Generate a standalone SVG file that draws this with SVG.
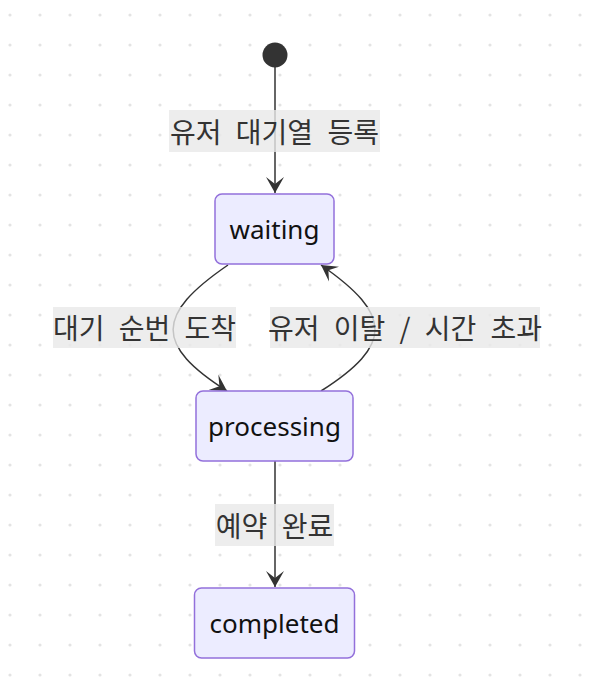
<svg xmlns="http://www.w3.org/2000/svg" width="597" height="678" viewBox="0 0 597 678">
<defs>
<pattern id="dots" x="0" y="0" width="30" height="30" patternUnits="userSpaceOnUse">
<circle cx="10" cy="15" r="1.6" fill="#e3e3e3"/>
</pattern>
<marker id="arrow" markerUnits="userSpaceOnUse" markerWidth="18" markerHeight="20" refX="16" refY="10" orient="auto" viewBox="0 0 18 20">
<path d="M16,10 L0,19 L7,10 L0,1 Z" fill="#333333"/>
</marker>
<style>
.node rect { fill: #ECECFF; stroke: #9370DB; stroke-width: 1.5; }
.node text { font-family: "Noto Sans", "DejaVu Sans", sans-serif; font-size: 26px; fill: #111111; text-anchor: middle; dominant-baseline: central; }
.edge { fill: none; stroke: #333333; stroke-width: 1.5; marker-end: url(#arrow); }
.lbl rect { fill: #e8e8e8; opacity: 0.8; }
.lbl text { font-family: "Noto Sans CJK KR", "Noto Sans", sans-serif; font-size: 28px; word-spacing: 8px; fill: #333333; text-anchor: middle; dominant-baseline: central; }
</style>
</defs>
<rect x="0" y="0" width="597" height="678" fill="#ffffff"/>
<rect x="0" y="0" width="597" height="678" fill="url(#dots)"/>
<g id="connectors">
<path class="edge" d="M275,67 L275,193"/>
<path class="edge" d="M228,265 C155,315 155,345 227,391"/>
<path class="edge" d="M321,391 C393,345 393,315 321,265"/>
<path class="edge" d="M275,461 L275,587"/>
</g>
<g id="labels">
<g class="lbl" id="label-enqueue"><rect x="169" y="110" width="211" height="42"/><text x="274.5" y="130.5">유저 대기열 등록</text></g>
<g class="lbl" id="label-turn"><rect x="53" y="307" width="183" height="41"/><text x="144.5" y="327">대기 순번 도착</text></g>
<g class="lbl" id="label-leave"><rect x="270" y="307" width="270" height="41"/><text x="405" y="327">유저 이탈 / 시간 초과</text></g>
<g class="lbl" id="label-done"><rect x="215" y="504" width="119" height="42"/><text x="274.5" y="524.5">예약 완료</text></g>
</g>
<g id="start"><circle cx="275" cy="55" r="12.5" fill="#333333"/></g>
<g id="waiting" class="node"><rect x="215" y="194" width="119" height="70" rx="7"/><text x="274.5" y="228.5">waiting</text></g>
<g id="processing" class="node"><rect x="196" y="391" width="157" height="70" rx="7"/><text x="274.5" y="425.5">processing</text></g>
<g id="completed" class="node"><rect x="194.5" y="588" width="160" height="70" rx="7"/><text x="274.5" y="622.5">completed</text></g>
</svg>
